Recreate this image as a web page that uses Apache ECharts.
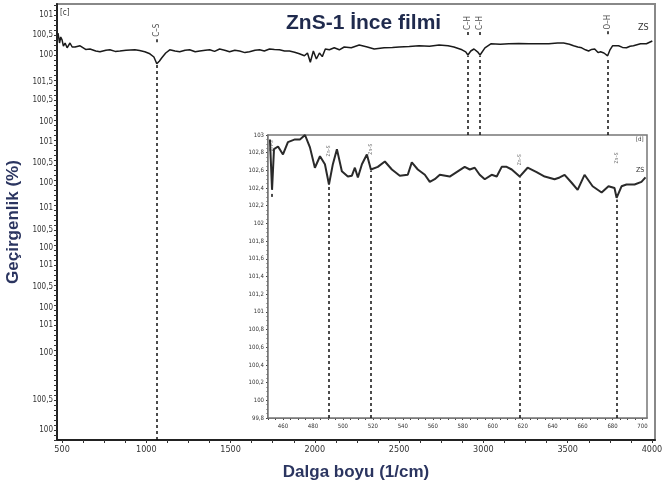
<!DOCTYPE html>
<html>
<head>
<meta charset="utf-8">
<script src="https://cdn.jsdelivr.net/npm/echarts@6/dist/echarts.min.js"></script>
<style>
  html, body { margin: 0; padding: 0; background: #fff; }
  #chart { width: 662px; height: 488px; }
</style>
</head>
<body>
<div id="chart"></div>
<script>
// main spectrum (wavenumber, transmittance)
const mainWn = [476, 485, 492, 500, 508, 518, 530, 547, 560, 577, 607, 640, 666, 700, 725, 760, 784, 815, 843, 880, 932, 960, 991, 1021, 1045, 1062, 1078, 1092, 1115, 1139, 1170, 1198, 1230, 1257, 1290, 1317, 1350, 1376, 1405, 1435, 1465, 1494, 1525, 1553, 1585, 1612, 1645, 1672, 1700, 1731, 1760, 1790, 1820, 1849, 1880, 1908, 1938, 1956, 1973, 1991, 2009, 2027, 2044, 2062, 2086, 2115, 2145, 2174, 2216, 2263, 2311, 2352, 2411, 2460, 2500, 2560, 2618, 2680, 2737, 2790, 2825, 2873, 2895, 2908, 2925, 2944, 2965, 2980, 3009, 3044, 3100, 3151, 3210, 3269, 3330, 3388, 3440, 3476, 3510, 3535, 3560, 3583, 3605, 3624, 3642, 3660, 3680, 3695, 3715, 3737, 3750, 3766, 3802, 3825, 3849, 3870, 3890, 3932, 3967, 4002];
const mainT = [100.55, 100.3, 100.45, 100.38, 100.22, 100.3, 100.18, 100.3, 100.2, 100.2, 100.23, 100.14, 100.15, 100.1, 100.08, 100.12, 100.13, 100.09, 100.1, 100.12, 100.13, 100.11, 100.08, 100.03, 99.95, 99.78, 99.85, 99.93, 100.05, 100.13, 100.1, 100.08, 100.12, 100.13, 100.08, 100.1, 100.12, 100.13, 100.09, 100.15, 100.12, 100.08, 100.12, 100.1, 100.06, 100.08, 100.12, 100.13, 100.1, 100.15, 100.14, 100.13, 100.1, 100.1, 100.07, 100.03, 99.98, 100.05, 99.82, 100.1, 99.9, 100.05, 99.96, 100.15, 100.13, 100.18, 100.13, 100.2, 100.18, 100.25, 100.2, 100.15, 100.18, 100.19, 100.2, 100.21, 100.23, 100.22, 100.25, 100.23, 100.2, 100.13, 100.08, 100.0, 100.1, 100.15, 100.08, 100.0, 100.18, 100.28, 100.27, 100.28, 100.29, 100.28, 100.28, 100.28, 100.3, 100.3, 100.27, 100.23, 100.2, 100.18, 100.13, 100.1, 100.14, 100.15, 100.06, 100.08, 100.05, 99.98, 100.12, 100.23, 100.23, 100.19, 100.18, 100.22, 100.23, 100.28, 100.28, 100.35];

// main y tick labels (garbled, as in the source figure)
const mainTickVals = [101.0, 100.5, 100.0, 99.325, 98.875, 98.325, 97.825, 97.3, 96.8, 96.175, 95.625, 95.175, 94.75, 94.2, 93.675, 93.25, 92.55, 91.375, 90.625];
const mainTickText = ['101', '100,5', '100', '101,5', '100,5', '100', '101', '100,5', '100', '101', '100,5', '100', '101', '100,5', '100', '101', '100', '100,5', '100'];
const mainXLabels = [500, 1000, 1500, 2000, 2500, 3000, 3500, 4000];

// band assignments, main panel
const bandWn = [1062, 2908, 2980, 3737];
const bandName = ['C–S', 'C–H', 'C–H', 'O–H'];
const bandTop = [99.75, 99.98, 99.98, 99.95];
const bandBottom = [90.375, 98.0, 98.0, 98.0];
const bandLabelY = [100.62, 100.8, 100.8, 100.82];

// inset spectrum
const insetWn = [451.3, 452.7, 454.0, 456.7, 460.0, 463.3, 468.0, 471.3, 474.7, 478.0, 481.3, 484.7, 488.0, 490.7, 493.3, 496.0, 499.3, 503.3, 506.0, 508.0, 510.0, 512.7, 516.0, 518.7, 523.3, 528.0, 532.7, 538.0, 543.3, 546.0, 550.0, 554.7, 558.0, 561.3, 564.7, 571.3, 581.3, 584.7, 588.0, 591.3, 594.7, 599.3, 602.7, 606.0, 609.3, 612.7, 618.0, 623.3, 629.3, 634.7, 641.3, 644.7, 648.0, 652.7, 656.7, 661.3, 666.7, 672.7, 677.3, 681.3, 682.7, 686.0, 689.3, 694.7, 699.3, 702.0];
const insetT = [102.95, 102.38, 102.84, 102.87, 102.78, 102.92, 102.95, 102.95, 103.0, 102.86, 102.63, 102.76, 102.67, 102.44, 102.67, 102.84, 102.59, 102.53, 102.54, 102.63, 102.52, 102.67, 102.78, 102.61, 102.64, 102.7, 102.61, 102.54, 102.55, 102.69, 102.61, 102.55, 102.47, 102.5, 102.55, 102.53, 102.64, 102.61, 102.63, 102.55, 102.5, 102.55, 102.53, 102.64, 102.64, 102.61, 102.53, 102.63, 102.58, 102.53, 102.5, 102.52, 102.55, 102.46, 102.38, 102.55, 102.42, 102.35, 102.42, 102.4, 102.29, 102.42, 102.44, 102.44, 102.47, 102.52];
const insetXLabels = [460, 480, 500, 520, 540, 560, 580, 600, 620, 640, 660, 680, 700];

// band assignments, inset
const insetBandWn = [452.7, 490.7, 518.7, 618, 682.7];
const insetBandTop = [102.36, 102.42, 102.6, 102.52, 102.27];
const insetBandLabelY = [102.88, 102.82, 102.84, 102.72, 102.74];

let chart = echarts.init(document.getElementById('chart'));

const tickFont = 'Liberation Sans Narrow, DejaVu Sans Condensed, sans-serif';
const nameFont = 'Liberation Sans, Arial, sans-serif';

let mainMinorY = [];
for (let v = 90.375; v <= 101.28; v += 0.125) mainMinorY.push(+v.toFixed(3));
let mainMinorX = [];
for (let v = 500; v <= 4000; v += 125) mainMinorX.push(v);
let insetMinorX = [];
for (let v = 450; v <= 700; v += 5) insetMinorX.push(v);

let dash = {color: '#111', width: 1.5, type: [3, 3]};

let mainBandLines = [];
bandWn.forEach((w, i) => {
  mainBandLines.push([{coord: [w, bandBottom[i]]}, {coord: [w, bandTop[i]]}]);
  mainBandLines.push([{coord: [w, bandLabelY[i] - 0.3]}, {coord: [w, bandLabelY[i] - 0.2]}]);
});
let insetBandLines = insetBandWn.map((w, i) => [
  {coord: [w, i === 0 ? 102.3 : 99.8]}, {coord: [w, insetBandTop[i]]}
]);

let option = {
  animation: false,
  backgroundColor: '#fff',
  title: {
    text: 'ZnS-1 İnce filmi',
    left: 281,
    top: 8,
    textStyle: {
      color: '#1f2a4d',
      fontSize: 21,
      fontWeight: 'bold',
      fontFamily: nameFont
    }
  },
  grid: [
    {left: 57, top: 4, right: 7, bottom: 48, outerBoundsMode: 'none', containLabel: false, show: true, borderColor: '#888', borderWidth: 2},
    {left: 268, top: 135, right: 15, bottom: 70, outerBoundsMode: 'none', containLabel: false, show: true, borderColor: '#777', borderWidth: 1.5, backgroundColor: '#fff', z: 5}
  ],
  xAxis: [
    {
      gridIndex: 0,
      type: 'value',
      min: 470,
      max: 4018,
      name: 'Dalga boyu (1/cm)',
      nameLocation: 'middle',
      nameGap: 24,
      nameTextStyle: {color: '#2b3560', fontSize: 17, fontWeight: 'bold', fontFamily: nameFont},
      axisLine: {show: true, onZero: false, lineStyle: {color: '#222', width: 2}},
      axisTick: {show: true, length: 3, customValues: mainMinorX, lineStyle: {color: '#333'}},
      axisLabel: {
        customValues: mainXLabels,
        color: '#333',
        fontSize: 9,
        fontFamily: tickFont,
        margin: 5,
        formatter: v => String(v)
      },
      splitLine: {show: false}
    },
    {
      gridIndex: 1,
      type: 'value',
      min: 450,
      max: 703,
      axisLine: {show: true, onZero: false, lineStyle: {color: '#555', width: 1.5}},
      axisTick: {show: true, length: 2, customValues: insetMinorX, lineStyle: {color: '#444'}},
      axisLabel: {customValues: insetXLabels, color: '#333', fontSize: 6, fontFamily: tickFont, margin: 5, formatter: v => String(v)},
      splitLine: {show: false}
    }
  ],
  yAxis: [
    {
      gridIndex: 0,
      type: 'value',
      min: 90.375,
      max: 101.275,
      name: 'Geçirgenlik (%)',
      nameLocation: 'middle',
      nameGap: 30,
      nameTextStyle: {color: '#2b3560', fontSize: 17, fontWeight: 'bold', fontFamily: nameFont},
      axisLine: {show: true, onZero: false, lineStyle: {color: '#222', width: 2}},
      axisTick: {show: true, length: 3, customValues: mainMinorY, lineStyle: {color: '#333'}},
      axisLabel: {
        customValues: mainTickVals,
        color: '#333',
        fontSize: 8,
        fontFamily: tickFont,
        margin: 4,
        formatter: function (v) {
          for (let i = 0; i < mainTickVals.length; i++) {
            if (Math.abs(mainTickVals[i] - v) < 1e-6) return mainTickText[i];
          }
          return '';
        }
      },
      splitLine: {show: false}
    },
    {
      gridIndex: 1,
      type: 'value',
      min: 99.8,
      max: 103,
      interval: 0.2,
      axisLine: {show: true, onZero: false, lineStyle: {color: '#555', width: 1.5}},
      axisTick: {show: true, length: 2, lineStyle: {color: '#444'}},
      minorTick: {show: true, splitNumber: 4, length: 1.5, lineStyle: {color: '#555'}},
      axisLabel: {
        color: '#333',
        fontSize: 6,
        fontFamily: tickFont,
        margin: 4,
        formatter: function (v) { return (+v.toFixed(1)).toString().replace('.', ','); }
      },
      splitLine: {show: false}
    }
  ],
  series: [
    {
      name: 'ZS',
      type: 'line',
      xAxisIndex: 0,
      yAxisIndex: 0,
      data: mainWn.map((w, i) => [w, mainT[i]]),
      showSymbol: false,
      lineStyle: {color: '#1a1a1a', width: 1.5},
      markLine: {
        silent: true,
        symbol: 'none',
        label: {show: false},
        lineStyle: dash,
        data: mainBandLines
      }
    },
    {
      type: 'scatter',
      xAxisIndex: 0,
      yAxisIndex: 0,
      symbolSize: 0,
      data: bandWn.map((w, i) => ({value: [w, bandLabelY[i]], name: bandName[i]})),
      label: {
        show: true,
        position: 'inside',
        rotate: 90,
        formatter: '{b}',
        color: '#222',
        fontSize: 8,
        fontFamily: tickFont
      }
    },
    {
      name: 'ZS inset',
      type: 'line',
      xAxisIndex: 1,
      yAxisIndex: 1,
      z: 6,
      data: insetWn.map((w, i) => [w, insetT[i]]),
      showSymbol: false,
      lineStyle: {color: '#2a2a2a', width: 2},
      markLine: {
        silent: true,
        symbol: 'none',
        label: {show: false},
        lineStyle: dash,
        data: insetBandLines
      }
    },
    {
      type: 'scatter',
      xAxisIndex: 1,
      yAxisIndex: 1,
      z: 6,
      symbolSize: 0,
      data: insetBandWn.map((w, i) => [w, insetBandLabelY[i]]),
      label: {
        show: true,
        position: 'inside',
        rotate: 90,
        formatter: 'Zn–S',
        color: '#333',
        fontSize: 5,
        fontFamily: tickFont
      }
    }
  ],
  graphic: [
    {type: 'text', left: 60, top: 9, style: {text: '[c]', fill: '#333', fontSize: 8, fontFamily: tickFont}},
    {type: 'text', left: 638, top: 23, style: {text: 'ZS', fill: '#333', fontSize: 9, fontFamily: tickFont}},
    {type: 'text', left: 636, top: 136, z: 10, style: {text: '[d]', fill: '#333', fontSize: 6, fontFamily: tickFont}},
    {type: 'text', left: 636, top: 167, z: 10, style: {text: 'ZS', fill: '#333', fontSize: 7, fontFamily: tickFont}}
  ]
};

chart.setOption(option);
</script>
</body>
</html>
